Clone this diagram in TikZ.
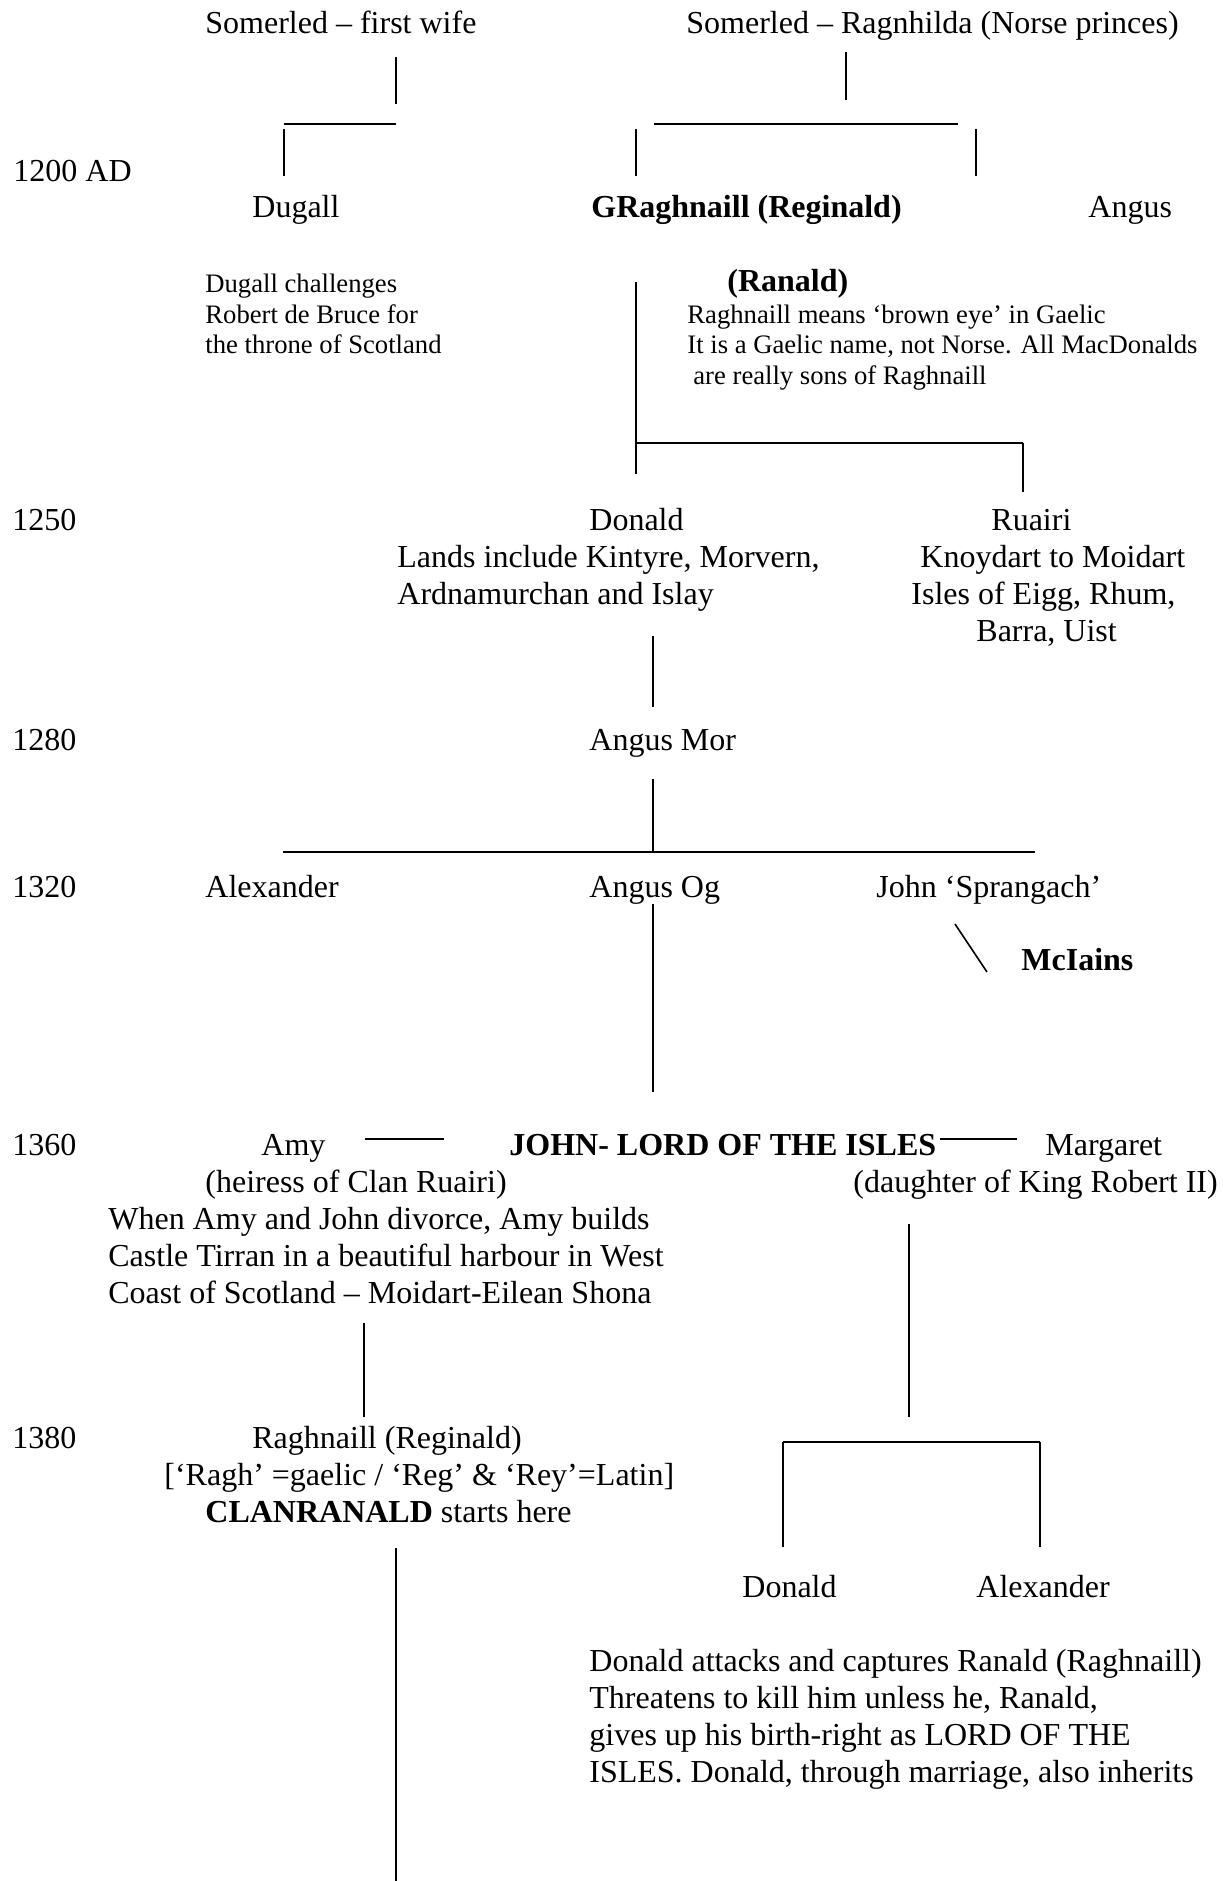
\documentclass[tikz,border=0pt]{standalone}
\usepackage{fontspec}
\setmainfont{Liberation Serif}
\begin{document}
\begin{tikzpicture}[x=0.5pt,y=-0.5pt,
  big/.style={font=\fontsize{16}{18.5}\selectfont, inner sep=0pt, anchor=base west},
  bigb/.style={big, font=\fontsize{16}{18.5}\selectfont\bfseries},
  small/.style={font=\fontsize{13.33}{15.3}\selectfont, inner sep=0pt, anchor=base west},
  vline/.style={line width=0.8pt},
  hline/.style={line width=1.1pt}]
\useasboundingbox (0,0) rectangle (1222,1881);

% ---------- texts ----------
\node[big] (som1) at (205,33) {Somerled – first wife};
\node[big] (som2) at (686,33) {Somerled – Ragnhilda (Norse princes)};
\node[big] (y1200) at (13,181) {1200 AD};
\node[big] (dugall) at (252,217) {Dugall};
\node[bigb] (ragh) at (591,217) {GRaghnaill (Reginald)};
\node[big] (angus) at (1088,217) {Angus};
\node[small] (dug1) at (205,292) {Dugall challenges};
\node[small] (dug2) at (205,323) {Robert de Bruce for};
\node[small] (dug3) at (205,353) {the throne of Scotland};
\node[bigb] (ranald) at (727,291) {(Ranald)};
\node[small] (rn1) at (687,323) {Raghnaill means ‘brown eye’ in Gaelic};
\node[small] (rn2) at (687,353) {It is a Gaelic name, not Norse. All MacDonalds};
\node[small] (rn3) at (693,384) {are really sons of Raghnaill};

\node[big] (y1250) at (12,530) {1250};
\node[big] (donald) at (589,530) {Donald};
\node[big] (ruairi) at (991,530) {Ruairi};
\node[big] (don1) at (397,567) {Lands include Kintyre, Morvern,};
\node[big] (don2) at (397,604) {Ardnamurchan and Islay};
\node[big] (ru1) at (920,567) {Knoydart to Moidart};
\node[big] (ru2) at (911,604) {Isles of Eigg, Rhum,};
\node[big] (ru3) at (976,641) {Barra, Uist};

\node[big] (y1280) at (12,750) {1280};
\node[big] (angusmor) at (589,750) {Angus Mor};

\node[big] (y1320) at (12,897) {1320};
\node[big] (alex1) at (205,897) {Alexander};
\node[big] (angusog) at (589,897) {Angus Og};
\node[big] (johns) at (876,897) {John ‘Sprangach’};
\node[bigb] (mciains) at (1021,970) {McIains};

\node[big] (y1360) at (12,1155) {1360};
\node[big] (amy) at (261,1155) {Amy};
\node[bigb] (john) at (509,1155) {JOHN- LORD OF THE ISLES};
\node[big] (margaret) at (1045,1155) {Margaret};
\node[big] (amy1) at (205,1192) {(heiress of Clan Ruairi)};
\node[big] (mar1) at (853,1192) {(daughter of King Robert II)};
\node[big] (amy2) at (108,1229) {When Amy and John divorce, Amy builds};
\node[big] (amy3) at (108,1266) {Castle Tirran in a beautiful harbour in West};
\node[big] (amy4) at (108,1303) {Coast of Scotland – Moidart-Eilean Shona};

\node[big] (y1380) at (12,1448) {1380};
\node[big] (ragh2) at (252,1448) {Raghnaill (Reginald)};
\node[big] (ragh2a) at (164,1485) {[‘Ragh’ =gaelic / ‘Reg’ \& ‘Rey’=Latin]};
\node[big] (ragh2b) at (205,1522) {\textbf{CLANRANALD} starts here};
\node[big] (donald2) at (742,1597) {Donald};
\node[big] (alex2) at (976,1597) {Alexander};
\node[big] (d1) at (589,1671) {Donald attacks and captures Ranald (Raghnaill)};
\node[big] (d2) at (589,1708) {Threatens to kill him unless he, Ranald,};
\node[big] (d3) at (589,1745) {gives up his birth-right as LORD OF THE};
\node[big] (d4) at (589,1782) {ISLES. Donald, through marriage, also inherits};

% ---------- connector end points ----------
\coordinate (a1) at (396,57);   \coordinate (a2) at (396,104);
\coordinate (b1) at (284,124);  \coordinate (b2) at (396,124);
\coordinate (c1) at (284,129);  \coordinate (c2) at (284,176);
\coordinate (e1) at (846,52);   \coordinate (e2) at (846,100);
\coordinate (f1) at (654,124);  \coordinate (f2) at (958,124);
\coordinate (g1) at (636,129);  \coordinate (g2) at (636,176);
\coordinate (h1) at (976,129);  \coordinate (h2) at (976,176);
\coordinate (i1) at (636,282);  \coordinate (i2) at (636,474);
\coordinate (j1) at (636,443);  \coordinate (j2) at (1023,443);
\coordinate (j3) at (1023,492);
\coordinate (k1) at (653,636);  \coordinate (k2) at (653,707);
\coordinate (l1) at (653,779);  \coordinate (l2) at (653,852);
\coordinate (m1) at (283,852);  \coordinate (m2) at (1035,852);
\coordinate (n1) at (653,904);  \coordinate (n2) at (653,1092);
\coordinate (o1) at (955,924);  \coordinate (o2) at (987,972);
\coordinate (p1) at (365,1139); \coordinate (p2) at (444,1139);
\coordinate (q1) at (940,1139); \coordinate (q2) at (1017,1139);
\coordinate (r1) at (364,1323); \coordinate (r2) at (364,1417);
\coordinate (s1) at (909,1224); \coordinate (s2) at (909,1417);
\coordinate (t1) at (783,1442); \coordinate (t2) at (1040,1442);
\coordinate (t3) at (783,1547); \coordinate (t4) at (1040,1547);
\coordinate (u1) at (396,1548); \coordinate (u2) at (396,1881);

% ---------- connectors ----------
\draw[vline] (a1) -- (a2);
\draw[hline] (b1) -- (b2);
\draw[vline] (c1) -- (c2);
\draw[vline] (e1) -- (e2);
\draw[hline] (f1) -- (f2);
\draw[vline] (g1) -- (g2);
\draw[vline] (h1) -- (h2);
\draw[vline] (i1) -- (i2);
\draw[hline] (j1) -- (j2);
\draw[vline] (j2) -- (j3);
\draw[vline] (k1) -- (k2);
\draw[vline] (l1) -- (l2);
\draw[hline] (m1) -- (m2);
\draw[vline] (n1) -- (n2);
\draw[vline] (o1) -- (o2);
\draw[hline] (p1) -- (p2);
\draw[hline] (q1) -- (q2);
\draw[vline] (r1) -- (r2);
\draw[vline] (s1) -- (s2);
\draw[hline] (t1) -- (t2);
\draw[vline] (t1) -- (t3);
\draw[vline] (t2) -- (t4);
\draw[vline] (u1) -- (u2);
\end{tikzpicture}
\end{document}
